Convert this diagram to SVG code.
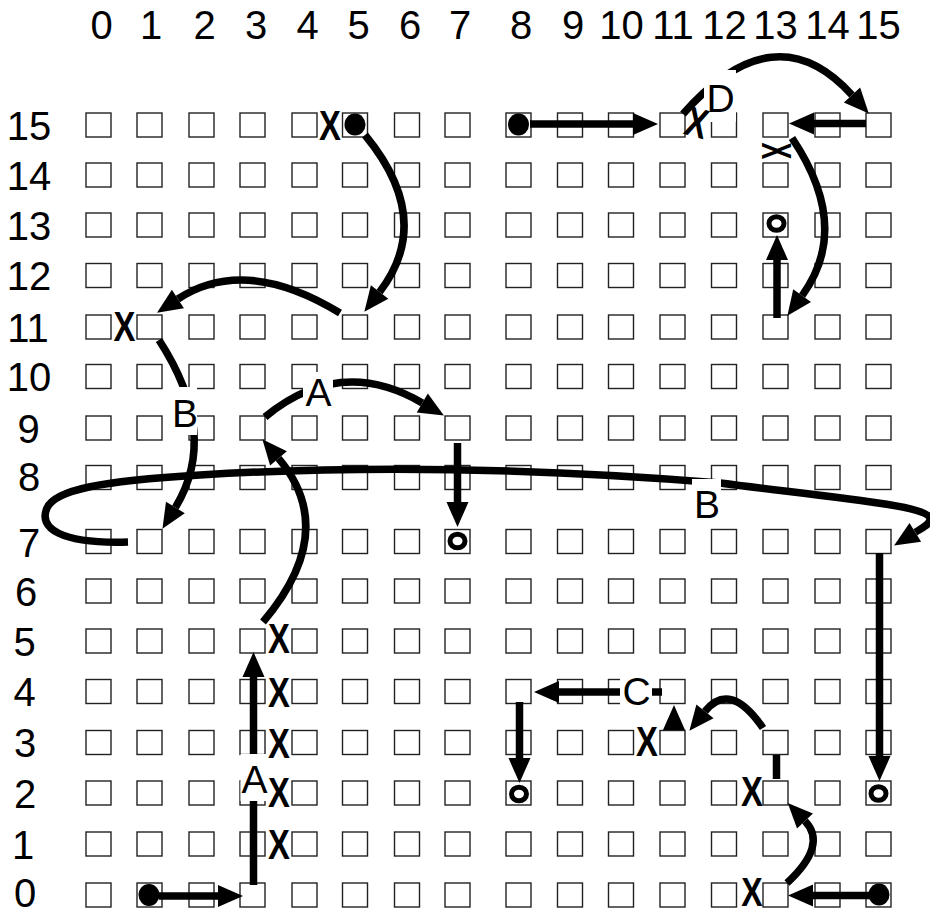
<svg xmlns="http://www.w3.org/2000/svg" width="930" height="915" viewBox="0 0 930 915">
<style>
.sq{fill:#fff;stroke:#222;stroke-width:1.4}
.ax text{font-family:"Liberation Sans",Arial,sans-serif;font-size:40px;fill:#000;text-anchor:middle}
.dot{fill:#000}
.ring{fill:none;stroke:#000;stroke-width:5}
.c{fill:none;stroke:#000;stroke-width:7.5}
.lb rect{fill:#fff;stroke:none}
.lb text{font-family:"Liberation Sans",Arial,sans-serif;font-size:39px;fill:#000;text-anchor:middle}
.x text{font-family:"Liberation Sans",Arial,sans-serif;font-weight:bold;font-size:42px;fill:#000;text-anchor:middle}
</style>
<defs>
<marker id="ah" markerUnits="userSpaceOnUse" markerWidth="25" markerHeight="22" refX="0" refY="11" orient="auto" overflow="visible"><path d="M0,0 L25,11 L0,22 z" fill="#000"/></marker>
</defs>
<rect width="930" height="915" fill="#fff"/>
<g id="axes" class="ax">
<text x="101.5" y="39">0</text><text x="151" y="39">1</text><text x="204.5" y="39">2</text><text x="256" y="39">3</text><text x="307.5" y="39">4</text><text x="358.5" y="39">5</text><text x="410" y="39">6</text><text x="460" y="39">7</text><text x="521" y="39">8</text><text x="573" y="39">9</text><text x="621.5" y="39">10</text><text x="673" y="39">11</text><text x="724.5" y="39">12</text><text x="775.5" y="39">13</text><text x="827.5" y="39">14</text><text x="878.5" y="39">15</text>
<text x="29" y="139.5">15</text><text x="29" y="189.5">14</text><text x="29" y="239.5">13</text><text x="29" y="290">12</text><text x="28" y="341.5">11</text><text x="29" y="391">10</text><text x="28.5" y="443">9</text><text x="29" y="490.5">8</text><text x="29" y="556.5">7</text><text x="26" y="606">6</text><text x="24.5" y="656">5</text><text x="24.5" y="706">4</text><text x="25" y="757">3</text><text x="25" y="807.5">2</text><text x="23" y="858.5">1</text><text x="25" y="907">0</text>
</g>
<g id="nodes">
<g id="n0_15"><rect class="sq" x="86" y="113" width="25" height="24"/></g><g id="n1_15"><rect class="sq" x="137" y="113" width="25" height="24"/></g><g id="n2_15"><rect class="sq" x="189" y="113" width="25" height="24"/></g><g id="n3_15"><rect class="sq" x="240" y="113" width="25" height="24"/></g><g id="n4_15"><rect class="sq" x="292" y="113" width="25" height="24"/></g><g id="n5_15"><rect class="sq" x="342.5" y="113" width="25" height="24"/><ellipse class="dot" cx="355" cy="124.5" rx="10.5" ry="11"/></g><g id="n6_15"><rect class="sq" x="394.5" y="113" width="25" height="24"/></g><g id="n7_15"><rect class="sq" x="445" y="113" width="25" height="24"/></g><g id="n8_15"><rect class="sq" x="506" y="113" width="25" height="24"/><ellipse class="dot" cx="518.5" cy="124.5" rx="10.5" ry="11"/></g><g id="n9_15"><rect class="sq" x="557.5" y="113" width="25" height="24"/></g><g id="n10_15"><rect class="sq" x="608.5" y="113" width="25" height="24"/></g><g id="n11_15"><rect class="sq" x="660" y="113" width="25" height="24"/></g><g id="n12_15"><rect class="sq" x="711.5" y="113" width="25" height="24"/></g><g id="n13_15"><rect class="sq" x="763" y="113" width="25" height="24"/></g><g id="n14_15"><rect class="sq" x="815" y="113" width="25" height="24"/></g><g id="n15_15"><rect class="sq" x="866" y="113" width="25" height="24"/></g>
<g id="n0_14"><rect class="sq" x="86" y="163" width="25" height="24"/></g><g id="n1_14"><rect class="sq" x="137" y="163" width="25" height="24"/></g><g id="n2_14"><rect class="sq" x="189" y="163" width="25" height="24"/></g><g id="n3_14"><rect class="sq" x="240" y="163" width="25" height="24"/></g><g id="n4_14"><rect class="sq" x="292" y="163" width="25" height="24"/></g><g id="n5_14"><rect class="sq" x="342.5" y="163" width="25" height="24"/></g><g id="n6_14"><rect class="sq" x="394.5" y="163" width="25" height="24"/></g><g id="n7_14"><rect class="sq" x="445" y="163" width="25" height="24"/></g><g id="n8_14"><rect class="sq" x="506" y="163" width="25" height="24"/></g><g id="n9_14"><rect class="sq" x="557.5" y="163" width="25" height="24"/></g><g id="n10_14"><rect class="sq" x="608.5" y="163" width="25" height="24"/></g><g id="n11_14"><rect class="sq" x="660" y="163" width="25" height="24"/></g><g id="n12_14"><rect class="sq" x="711.5" y="163" width="25" height="24"/></g><g id="n13_14"><rect class="sq" x="763" y="163" width="25" height="24"/></g><g id="n14_14"><rect class="sq" x="815" y="163" width="25" height="24"/></g><g id="n15_14"><rect class="sq" x="866" y="163" width="25" height="24"/></g>
<g id="n0_13"><rect class="sq" x="86" y="213" width="25" height="24"/></g><g id="n1_13"><rect class="sq" x="137" y="213" width="25" height="24"/></g><g id="n2_13"><rect class="sq" x="189" y="213" width="25" height="24"/></g><g id="n3_13"><rect class="sq" x="240" y="213" width="25" height="24"/></g><g id="n4_13"><rect class="sq" x="292" y="213" width="25" height="24"/></g><g id="n5_13"><rect class="sq" x="342.5" y="213" width="25" height="24"/></g><g id="n6_13"><rect class="sq" x="394.5" y="213" width="25" height="24"/></g><g id="n7_13"><rect class="sq" x="445" y="213" width="25" height="24"/></g><g id="n8_13"><rect class="sq" x="506" y="213" width="25" height="24"/></g><g id="n9_13"><rect class="sq" x="557.5" y="213" width="25" height="24"/></g><g id="n10_13"><rect class="sq" x="608.5" y="213" width="25" height="24"/></g><g id="n11_13"><rect class="sq" x="660" y="213" width="25" height="24"/></g><g id="n12_13"><rect class="sq" x="711.5" y="213" width="25" height="24"/></g><g id="n13_13"><rect class="sq" x="763" y="213" width="25" height="24"/><ellipse class="ring" cx="776.5" cy="223.5" rx="7.5" ry="6.8"/></g><g id="n14_13"><rect class="sq" x="815" y="213" width="25" height="24"/></g><g id="n15_13"><rect class="sq" x="866" y="213" width="25" height="24"/></g>
<g id="n0_12"><rect class="sq" x="86" y="263.5" width="25" height="24"/></g><g id="n1_12"><rect class="sq" x="137" y="263.5" width="25" height="24"/></g><g id="n2_12"><rect class="sq" x="189" y="263.5" width="25" height="24"/></g><g id="n3_12"><rect class="sq" x="240" y="263.5" width="25" height="24"/></g><g id="n4_12"><rect class="sq" x="292" y="263.5" width="25" height="24"/></g><g id="n5_12"><rect class="sq" x="342.5" y="263.5" width="25" height="24"/></g><g id="n6_12"><rect class="sq" x="394.5" y="263.5" width="25" height="24"/></g><g id="n7_12"><rect class="sq" x="445" y="263.5" width="25" height="24"/></g><g id="n8_12"><rect class="sq" x="506" y="263.5" width="25" height="24"/></g><g id="n9_12"><rect class="sq" x="557.5" y="263.5" width="25" height="24"/></g><g id="n10_12"><rect class="sq" x="608.5" y="263.5" width="25" height="24"/></g><g id="n11_12"><rect class="sq" x="660" y="263.5" width="25" height="24"/></g><g id="n12_12"><rect class="sq" x="711.5" y="263.5" width="25" height="24"/></g><g id="n13_12"><rect class="sq" x="763" y="263.5" width="25" height="24"/></g><g id="n14_12"><rect class="sq" x="815" y="263.5" width="25" height="24"/></g><g id="n15_12"><rect class="sq" x="866" y="263.5" width="25" height="24"/></g>
<g id="n0_11"><rect class="sq" x="86" y="315" width="25" height="24"/></g><g id="n1_11"><rect class="sq" x="137" y="315" width="25" height="24"/></g><g id="n2_11"><rect class="sq" x="189" y="315" width="25" height="24"/></g><g id="n3_11"><rect class="sq" x="240" y="315" width="25" height="24"/></g><g id="n4_11"><rect class="sq" x="292" y="315" width="25" height="24"/></g><g id="n5_11"><rect class="sq" x="342.5" y="315" width="25" height="24"/></g><g id="n6_11"><rect class="sq" x="394.5" y="315" width="25" height="24"/></g><g id="n7_11"><rect class="sq" x="445" y="315" width="25" height="24"/></g><g id="n8_11"><rect class="sq" x="506" y="315" width="25" height="24"/></g><g id="n9_11"><rect class="sq" x="557.5" y="315" width="25" height="24"/></g><g id="n10_11"><rect class="sq" x="608.5" y="315" width="25" height="24"/></g><g id="n11_11"><rect class="sq" x="660" y="315" width="25" height="24"/></g><g id="n12_11"><rect class="sq" x="711.5" y="315" width="25" height="24"/></g><g id="n13_11"><rect class="sq" x="763" y="315" width="25" height="24"/></g><g id="n14_11"><rect class="sq" x="815" y="315" width="25" height="24"/></g><g id="n15_11"><rect class="sq" x="866" y="315" width="25" height="24"/></g>
<g id="n0_10"><rect class="sq" x="86" y="364.5" width="25" height="24"/></g><g id="n1_10"><rect class="sq" x="137" y="364.5" width="25" height="24"/></g><g id="n2_10"><rect class="sq" x="189" y="364.5" width="25" height="24"/></g><g id="n3_10"><rect class="sq" x="240" y="364.5" width="25" height="24"/></g><g id="n4_10"><rect class="sq" x="292" y="364.5" width="25" height="24"/></g><g id="n5_10"><rect class="sq" x="342.5" y="364.5" width="25" height="24"/></g><g id="n6_10"><rect class="sq" x="394.5" y="364.5" width="25" height="24"/></g><g id="n7_10"><rect class="sq" x="445" y="364.5" width="25" height="24"/></g><g id="n8_10"><rect class="sq" x="506" y="364.5" width="25" height="24"/></g><g id="n9_10"><rect class="sq" x="557.5" y="364.5" width="25" height="24"/></g><g id="n10_10"><rect class="sq" x="608.5" y="364.5" width="25" height="24"/></g><g id="n11_10"><rect class="sq" x="660" y="364.5" width="25" height="24"/></g><g id="n12_10"><rect class="sq" x="711.5" y="364.5" width="25" height="24"/></g><g id="n13_10"><rect class="sq" x="763" y="364.5" width="25" height="24"/></g><g id="n14_10"><rect class="sq" x="815" y="364.5" width="25" height="24"/></g><g id="n15_10"><rect class="sq" x="866" y="364.5" width="25" height="24"/></g>
<g id="n0_9"><rect class="sq" x="86" y="416" width="25" height="24"/></g><g id="n1_9"><rect class="sq" x="137" y="416" width="25" height="24"/></g><g id="n2_9"><rect class="sq" x="189" y="416" width="25" height="24"/></g><g id="n3_9"><rect class="sq" x="240" y="416" width="25" height="24"/></g><g id="n4_9"><rect class="sq" x="292" y="416" width="25" height="24"/></g><g id="n5_9"><rect class="sq" x="342.5" y="416" width="25" height="24"/></g><g id="n6_9"><rect class="sq" x="394.5" y="416" width="25" height="24"/></g><g id="n7_9"><rect class="sq" x="445" y="416" width="25" height="24"/></g><g id="n8_9"><rect class="sq" x="506" y="416" width="25" height="24"/></g><g id="n9_9"><rect class="sq" x="557.5" y="416" width="25" height="24"/></g><g id="n10_9"><rect class="sq" x="608.5" y="416" width="25" height="24"/></g><g id="n11_9"><rect class="sq" x="660" y="416" width="25" height="24"/></g><g id="n12_9"><rect class="sq" x="711.5" y="416" width="25" height="24"/></g><g id="n13_9"><rect class="sq" x="763" y="416" width="25" height="24"/></g><g id="n14_9"><rect class="sq" x="815" y="416" width="25" height="24"/></g><g id="n15_9"><rect class="sq" x="866" y="416" width="25" height="24"/></g>
<g id="n0_8"><rect class="sq" x="86" y="465.5" width="25" height="24"/></g><g id="n1_8"><rect class="sq" x="137" y="465.5" width="25" height="24"/></g><g id="n2_8"><rect class="sq" x="189" y="465.5" width="25" height="24"/></g><g id="n3_8"><rect class="sq" x="240" y="465.5" width="25" height="24"/></g><g id="n4_8"><rect class="sq" x="292" y="465.5" width="25" height="24"/></g><g id="n5_8"><rect class="sq" x="342.5" y="465.5" width="25" height="24"/></g><g id="n6_8"><rect class="sq" x="394.5" y="465.5" width="25" height="24"/></g><g id="n7_8"><rect class="sq" x="445" y="465.5" width="25" height="24"/></g><g id="n8_8"><rect class="sq" x="506" y="465.5" width="25" height="24"/></g><g id="n9_8"><rect class="sq" x="557.5" y="465.5" width="25" height="24"/></g><g id="n10_8"><rect class="sq" x="608.5" y="465.5" width="25" height="24"/></g><g id="n11_8"><rect class="sq" x="660" y="465.5" width="25" height="24"/></g><g id="n12_8"><rect class="sq" x="711.5" y="465.5" width="25" height="24"/></g><g id="n13_8"><rect class="sq" x="763" y="465.5" width="25" height="24"/></g><g id="n14_8"><rect class="sq" x="815" y="465.5" width="25" height="24"/></g><g id="n15_8"><rect class="sq" x="866" y="465.5" width="25" height="24"/></g>
<g id="n0_7"><rect class="sq" x="86" y="529.5" width="25" height="24"/></g><g id="n1_7"><rect class="sq" x="137" y="529.5" width="25" height="24"/></g><g id="n2_7"><rect class="sq" x="189" y="529.5" width="25" height="24"/></g><g id="n3_7"><rect class="sq" x="240" y="529.5" width="25" height="24"/></g><g id="n4_7"><rect class="sq" x="292" y="529.5" width="25" height="24"/></g><g id="n5_7"><rect class="sq" x="342.5" y="529.5" width="25" height="24"/></g><g id="n6_7"><rect class="sq" x="394.5" y="529.5" width="25" height="24"/></g><g id="n7_7"><rect class="sq" x="445" y="529.5" width="25" height="24"/><ellipse class="ring" cx="457.5" cy="541" rx="7.5" ry="6.8"/></g><g id="n8_7"><rect class="sq" x="506" y="529.5" width="25" height="24"/></g><g id="n9_7"><rect class="sq" x="557.5" y="529.5" width="25" height="24"/></g><g id="n10_7"><rect class="sq" x="608.5" y="529.5" width="25" height="24"/></g><g id="n11_7"><rect class="sq" x="660" y="529.5" width="25" height="24"/></g><g id="n12_7"><rect class="sq" x="711.5" y="529.5" width="25" height="24"/></g><g id="n13_7"><rect class="sq" x="763" y="529.5" width="25" height="24"/></g><g id="n14_7"><rect class="sq" x="815" y="529.5" width="25" height="24"/></g><g id="n15_7"><rect class="sq" x="866" y="529.5" width="25" height="24"/></g>
<g id="n0_6"><rect class="sq" x="86" y="579" width="25" height="24"/></g><g id="n1_6"><rect class="sq" x="137" y="579" width="25" height="24"/></g><g id="n2_6"><rect class="sq" x="189" y="579" width="25" height="24"/></g><g id="n3_6"><rect class="sq" x="240" y="579" width="25" height="24"/></g><g id="n4_6"><rect class="sq" x="292" y="579" width="25" height="24"/></g><g id="n5_6"><rect class="sq" x="342.5" y="579" width="25" height="24"/></g><g id="n6_6"><rect class="sq" x="394.5" y="579" width="25" height="24"/></g><g id="n7_6"><rect class="sq" x="445" y="579" width="25" height="24"/></g><g id="n8_6"><rect class="sq" x="506" y="579" width="25" height="24"/></g><g id="n9_6"><rect class="sq" x="557.5" y="579" width="25" height="24"/></g><g id="n10_6"><rect class="sq" x="608.5" y="579" width="25" height="24"/></g><g id="n11_6"><rect class="sq" x="660" y="579" width="25" height="24"/></g><g id="n12_6"><rect class="sq" x="711.5" y="579" width="25" height="24"/></g><g id="n13_6"><rect class="sq" x="763" y="579" width="25" height="24"/></g><g id="n14_6"><rect class="sq" x="815" y="579" width="25" height="24"/></g><g id="n15_6"><rect class="sq" x="866" y="579" width="25" height="24"/></g>
<g id="n0_5"><rect class="sq" x="86" y="629" width="25" height="24"/></g><g id="n1_5"><rect class="sq" x="137" y="629" width="25" height="24"/></g><g id="n2_5"><rect class="sq" x="189" y="629" width="25" height="24"/></g><g id="n3_5"><rect class="sq" x="240" y="629" width="25" height="24"/></g><g id="n4_5"><rect class="sq" x="292" y="629" width="25" height="24"/></g><g id="n5_5"><rect class="sq" x="342.5" y="629" width="25" height="24"/></g><g id="n6_5"><rect class="sq" x="394.5" y="629" width="25" height="24"/></g><g id="n7_5"><rect class="sq" x="445" y="629" width="25" height="24"/></g><g id="n8_5"><rect class="sq" x="506" y="629" width="25" height="24"/></g><g id="n9_5"><rect class="sq" x="557.5" y="629" width="25" height="24"/></g><g id="n10_5"><rect class="sq" x="608.5" y="629" width="25" height="24"/></g><g id="n11_5"><rect class="sq" x="660" y="629" width="25" height="24"/></g><g id="n12_5"><rect class="sq" x="711.5" y="629" width="25" height="24"/></g><g id="n13_5"><rect class="sq" x="763" y="629" width="25" height="24"/></g><g id="n14_5"><rect class="sq" x="815" y="629" width="25" height="24"/></g><g id="n15_5"><rect class="sq" x="866" y="629" width="25" height="24"/></g>
<g id="n0_4"><rect class="sq" x="86" y="679.5" width="25" height="24"/></g><g id="n1_4"><rect class="sq" x="137" y="679.5" width="25" height="24"/></g><g id="n2_4"><rect class="sq" x="189" y="679.5" width="25" height="24"/></g><g id="n3_4"><rect class="sq" x="240" y="679.5" width="25" height="24"/></g><g id="n4_4"><rect class="sq" x="292" y="679.5" width="25" height="24"/></g><g id="n5_4"><rect class="sq" x="342.5" y="679.5" width="25" height="24"/></g><g id="n6_4"><rect class="sq" x="394.5" y="679.5" width="25" height="24"/></g><g id="n7_4"><rect class="sq" x="445" y="679.5" width="25" height="24"/></g><g id="n8_4"><rect class="sq" x="506" y="679.5" width="25" height="24"/></g><g id="n9_4"><rect class="sq" x="557.5" y="679.5" width="25" height="24"/></g><g id="n10_4"><rect class="sq" x="608.5" y="679.5" width="25" height="24"/></g><g id="n11_4"><rect class="sq" x="660" y="679.5" width="25" height="24"/></g><g id="n12_4"><rect class="sq" x="711.5" y="679.5" width="25" height="24"/></g><g id="n13_4"><rect class="sq" x="763" y="679.5" width="25" height="24"/></g><g id="n14_4"><rect class="sq" x="815" y="679.5" width="25" height="24"/></g><g id="n15_4"><rect class="sq" x="866" y="679.5" width="25" height="24"/></g>
<g id="n0_3"><rect class="sq" x="86" y="730.5" width="25" height="24"/></g><g id="n1_3"><rect class="sq" x="137" y="730.5" width="25" height="24"/></g><g id="n2_3"><rect class="sq" x="189" y="730.5" width="25" height="24"/></g><g id="n3_3"><rect class="sq" x="240" y="730.5" width="25" height="24"/></g><g id="n4_3"><rect class="sq" x="292" y="730.5" width="25" height="24"/></g><g id="n5_3"><rect class="sq" x="342.5" y="730.5" width="25" height="24"/></g><g id="n6_3"><rect class="sq" x="394.5" y="730.5" width="25" height="24"/></g><g id="n7_3"><rect class="sq" x="445" y="730.5" width="25" height="24"/></g><g id="n8_3"><rect class="sq" x="506" y="730.5" width="25" height="24"/></g><g id="n9_3"><rect class="sq" x="557.5" y="730.5" width="25" height="24"/></g><g id="n10_3"><rect class="sq" x="608.5" y="730.5" width="25" height="24"/></g><g id="n11_3"><rect class="sq" x="660" y="730.5" width="25" height="24"/></g><g id="n12_3"><rect class="sq" x="711.5" y="730.5" width="25" height="24"/></g><g id="n13_3"><rect class="sq" x="763" y="730.5" width="25" height="24"/></g><g id="n14_3"><rect class="sq" x="815" y="730.5" width="25" height="24"/></g><g id="n15_3"><rect class="sq" x="866" y="730.5" width="25" height="24"/></g>
<g id="n0_2"><rect class="sq" x="86" y="781" width="25" height="24"/></g><g id="n1_2"><rect class="sq" x="137" y="781" width="25" height="24"/></g><g id="n2_2"><rect class="sq" x="189" y="781" width="25" height="24"/></g><g id="n3_2"><rect class="sq" x="240" y="781" width="25" height="24"/></g><g id="n4_2"><rect class="sq" x="292" y="781" width="25" height="24"/></g><g id="n5_2"><rect class="sq" x="342.5" y="781" width="25" height="24"/></g><g id="n6_2"><rect class="sq" x="394.5" y="781" width="25" height="24"/></g><g id="n7_2"><rect class="sq" x="445" y="781" width="25" height="24"/></g><g id="n8_2"><rect class="sq" x="506" y="781" width="25" height="24"/><ellipse class="ring" cx="519" cy="794" rx="7.5" ry="6.8"/></g><g id="n9_2"><rect class="sq" x="557.5" y="781" width="25" height="24"/></g><g id="n10_2"><rect class="sq" x="608.5" y="781" width="25" height="24"/></g><g id="n11_2"><rect class="sq" x="660" y="781" width="25" height="24"/></g><g id="n12_2"><rect class="sq" x="711.5" y="781" width="25" height="24"/></g><g id="n13_2"><rect class="sq" x="763" y="781" width="25" height="24"/></g><g id="n14_2"><rect class="sq" x="815" y="781" width="25" height="24"/></g><g id="n15_2"><rect class="sq" x="866" y="781" width="25" height="24"/><ellipse class="ring" cx="878.5" cy="793.5" rx="7.5" ry="6.8"/></g>
<g id="n0_1"><rect class="sq" x="86" y="832" width="25" height="24"/></g><g id="n1_1"><rect class="sq" x="137" y="832" width="25" height="24"/></g><g id="n2_1"><rect class="sq" x="189" y="832" width="25" height="24"/></g><g id="n3_1"><rect class="sq" x="240" y="832" width="25" height="24"/></g><g id="n4_1"><rect class="sq" x="292" y="832" width="25" height="24"/></g><g id="n5_1"><rect class="sq" x="342.5" y="832" width="25" height="24"/></g><g id="n6_1"><rect class="sq" x="394.5" y="832" width="25" height="24"/></g><g id="n7_1"><rect class="sq" x="445" y="832" width="25" height="24"/></g><g id="n8_1"><rect class="sq" x="506" y="832" width="25" height="24"/></g><g id="n9_1"><rect class="sq" x="557.5" y="832" width="25" height="24"/></g><g id="n10_1"><rect class="sq" x="608.5" y="832" width="25" height="24"/></g><g id="n11_1"><rect class="sq" x="660" y="832" width="25" height="24"/></g><g id="n12_1"><rect class="sq" x="711.5" y="832" width="25" height="24"/></g><g id="n13_1"><rect class="sq" x="763" y="832" width="25" height="24"/></g><g id="n14_1"><rect class="sq" x="815" y="832" width="25" height="24"/></g><g id="n15_1"><rect class="sq" x="866" y="832" width="25" height="24"/></g>
<g id="n0_0"><rect class="sq" x="86" y="883" width="25" height="24"/></g><g id="n1_0"><rect class="sq" x="137" y="883" width="25" height="24"/><ellipse class="dot" cx="149" cy="895" rx="10.5" ry="11"/></g><g id="n2_0"><rect class="sq" x="189" y="883" width="25" height="24"/></g><g id="n3_0"><rect class="sq" x="240" y="883" width="25" height="24"/></g><g id="n4_0"><rect class="sq" x="292" y="883" width="25" height="24"/></g><g id="n5_0"><rect class="sq" x="342.5" y="883" width="25" height="24"/></g><g id="n6_0"><rect class="sq" x="394.5" y="883" width="25" height="24"/></g><g id="n7_0"><rect class="sq" x="445" y="883" width="25" height="24"/></g><g id="n8_0"><rect class="sq" x="506" y="883" width="25" height="24"/></g><g id="n9_0"><rect class="sq" x="557.5" y="883" width="25" height="24"/></g><g id="n10_0"><rect class="sq" x="608.5" y="883" width="25" height="24"/></g><g id="n11_0"><rect class="sq" x="660" y="883" width="25" height="24"/></g><g id="n12_0"><rect class="sq" x="711.5" y="883" width="25" height="24"/></g><g id="n13_0"><rect class="sq" x="763" y="883" width="25" height="24"/></g><g id="n14_0"><rect class="sq" x="815" y="883" width="25" height="24"/></g><g id="n15_0"><rect class="sq" x="866" y="883" width="25" height="24"/><ellipse class="dot" cx="879" cy="894.5" rx="10.5" ry="11"/></g>
</g>
<g id="connectors">
<path class="c" d="M530,124 H633" marker-end="url(#ah)"/>
<path class="c" d="M866,123.5 H814" marker-end="url(#ah)"/>
<path class="c" d="M683,114 Q775,10 852,95" marker-end="url(#ah)"/>
<path class="c" d="M159,896 H218" marker-end="url(#ah)"/>
<path class="c" d="M253.5,885 V677" marker-end="url(#ah)"/>
<path class="c" d="M263,622 Q340,531 278.5,458.3" marker-end="url(#ah)"/>
<path class="c" d="M265,417 Q340,355 422.3,402.9" marker-end="url(#ah)"/>
<path class="c" d="M457.5,443 V502" marker-end="url(#ah)"/>
<path class="c" d="M365,135 Q435,220 379.6,292" marker-end="url(#ah)"/>
<path class="c" d="M340,313 Q245,255 177.9,299" marker-end="url(#ah)"/>
<path class="c" d="M159,340 Q220,434 175.4,507.5" marker-end="url(#ah)"/>
<path class="c" d="M128,542 C60,544 38,528 47,508 C55,490 100,481 200,475 C380,464 560,470 720,483 C830,497 925,505 930,518 C931,524 923.8,527 915.3,532.3" marker-end="url(#ah)"/>
<path class="c" d="M879.5,553 V756" marker-end="url(#ah)"/>
<path class="c" d="M870,895.5 H813" marker-end="url(#ah)"/>
<path class="c" d="M787,883 Q828,845 805,821" marker-end="url(#ah)"/>
<path class="c" d="M776.5,779 V755"/>
<path class="c" d="M763,728 Q730,680 705,711.3" marker-end="url(#ah)"/>
<path d="M674,731 V730" fill="none" stroke="none" marker-end="url(#ah)"/>
<path class="c" d="M662,692 H559" marker-end="url(#ah)"/>
<path class="c" d="M519.5,702 V758" marker-end="url(#ah)"/>
<path class="c" d="M777,318 V260" marker-end="url(#ah)"/>
<path class="c" d="M792,138 Q852,227 802.1,295.6" marker-end="url(#ah)"/>
<g class="lb"><rect x="240.5" y="754" width="26" height="47"/><text x="254.5" y="793">A</text></g>
<g class="lb"><rect x="303" y="372" width="30" height="42"/><text x="318.5" y="406">A</text></g>
<g class="lb"><rect x="170" y="387" width="27" height="48"/><text x="185" y="427">B</text></g>
<g class="lb"><rect x="692" y="479" width="29" height="42"/><text x="707" y="518">B</text></g>
<g class="lb"><rect x="620" y="672" width="32" height="40"/><text x="636.5" y="705">C</text></g>
<g class="lb"><rect x="704" y="70" width="32" height="52"/><text x="720.5" y="112">D</text></g>
</g>
<g id="blocks" class="x">
<text transform="translate(330,125) scale(0.78,1)" y="15">X</text>
<text transform="translate(124.5,326) scale(0.78,1)" y="15">X</text>
<text transform="translate(697,122) rotate(15) scale(0.78,1)" y="15">X</text>
<text transform="translate(777.5,151) rotate(90) scale(0.6,1)" y="15">X</text>
<text transform="translate(279,638) scale(0.78,1)" y="15">X</text>
<text transform="translate(279,692) scale(0.78,1)" y="15">X</text>
<text transform="translate(279,742.5) scale(0.78,1)" y="15">X</text>
<text transform="translate(279,792) scale(0.78,1)" y="15">X</text>
<text transform="translate(279,844) scale(0.78,1)" y="15">X</text>
<text transform="translate(647,741) scale(0.78,1)" y="15">X</text>
<text transform="translate(752,791) scale(0.78,1)" y="15">X</text>
<text transform="translate(752,892) scale(0.8,1)" y="14" style="font-size:40px">X</text>
</g>
</svg>
